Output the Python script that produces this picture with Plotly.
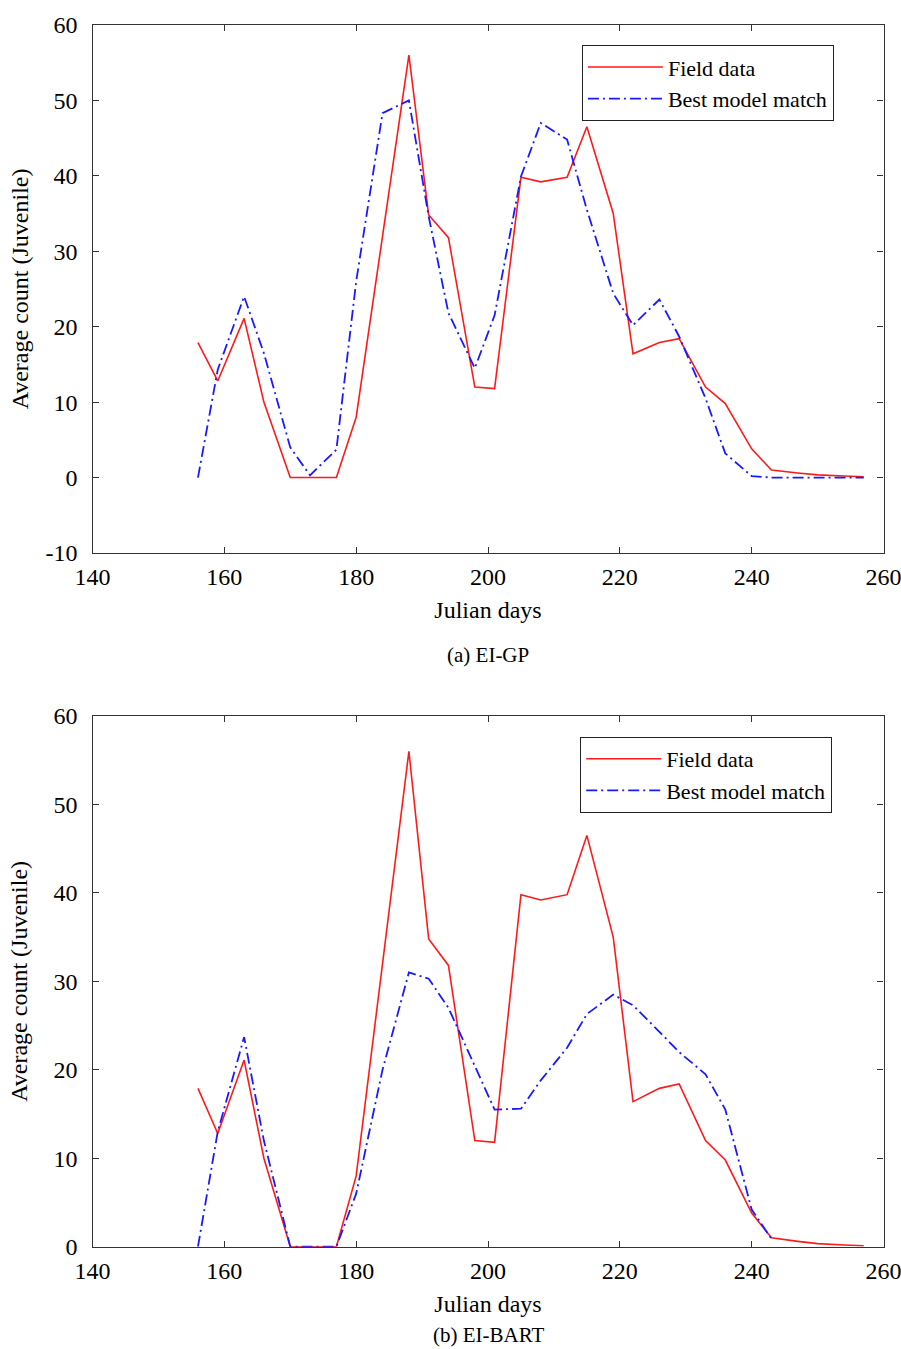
import plotly.graph_objects as go
from plotly.subplots import make_subplots

# ---- data ----
days = [156, 159, 163, 166, 170, 173, 177, 180, 184, 188, 191, 194, 198, 201, 205,
        208, 212, 215, 219, 222, 226, 229, 233, 236, 240, 243, 247, 250, 254, 257]
field_data = [17.9, 12.8, 21.1, 10.0, 0, 0, 0, 8.0, 32.0, 56.0, 34.8, 31.8, 12.0, 11.8, 39.8,
              39.2, 39.8, 46.5, 35.0, 16.4, 17.9, 18.4, 12.0, 9.8, 3.8, 1.0, 0.6, 0.35, 0.2, 0.1]
gp_model = [0, 14.3, 24.0, 16.5, 4.0, 0.3, 3.7, 26.0, 48.3, 50.0, 34.6, 21.8, 14.5, 21.5, 39.9,
            47.0, 44.8, 35.5, 24.4, 20.2, 23.6, 18.7, 10.5, 3.2, 0.2, 0, 0, 0, 0, 0]
bart_days = [156, 159, 163, 166, 170, 173, 177, 180, 184, 188, 191, 194, 198, 201, 205,
             208, 212, 215, 219, 222, 226, 229, 233, 236, 240, 243]
bart_model = [0, 13.0, 23.7, 12.0, 0, 0, 0, 6.0, 20.0, 31.0, 30.3, 27.0, 20.5, 15.5, 15.6,
              18.8, 22.5, 26.3, 28.5, 27.3, 24.3, 22.0, 19.5, 15.5, 4.2, 0.9]

x_ticks = [140, 160, 180, 200, 220, 240, 260]
y_ticks_a = [-10, 0, 10, 20, 30, 40, 50, 60]
y_ticks_b = [0, 10, 20, 30, 40, 50, 60]
captions = ["(a) EI-GP", "(b) EI-BART"]

FONT = "Liberation Serif"
W, H = 901, 1349

fig = make_subplots(rows=2, cols=1)

red = dict(color="#ff1a1a", width=1.6)
blue = dict(color="#1a1aff", width=1.8, dash="11px,4px,2px,4px")

fig.add_trace(go.Scatter(x=days, y=field_data, mode="lines", name="Field data",
                         line=red, legend="legend"), row=1, col=1)
fig.add_trace(go.Scatter(x=days, y=gp_model, mode="lines", name="Best model match",
                         line=blue, legend="legend"), row=1, col=1)
fig.add_trace(go.Scatter(x=days, y=field_data, mode="lines", name="Field data",
                         line=red, legend="legend2"), row=2, col=1)
fig.add_trace(go.Scatter(x=bart_days, y=bart_model, mode="lines", name="Best model match",
                         line=blue, legend="legend2"), row=2, col=1)

xdom = [92.5 / W, 883.5 / W]
ydom1 = [1 - 553 / H, 1 - 24.9 / H]
ydom2 = [1 - 1246.7 / H, 1 - 716 / H]

axis_common = dict(showline=True, linecolor="#333", linewidth=1.2, mirror="ticks",
                   ticks="inside", ticklen=6, tickcolor="#333", showgrid=False,
                   zeroline=False, automargin=False, ticklabeloverflow="allow",
                   tickfont=dict(family=FONT, size=24, color="black"))

for r, ydom, yt, ystand in ((1, ydom1, y_ticks_a, 10), (2, ydom2, y_ticks_b, 19)):
    fig.update_xaxes(domain=xdom, range=[140, 260], tickvals=x_ticks,
                     ticktext=[str(v) for v in x_ticks], ticklabelstandoff=2,
                     title=dict(text="Julian days", font=dict(family=FONT, size=24, color="black"),
                                standoff=12),
                     row=r, col=1, **axis_common)
    fig.update_yaxes(domain=ydom, tickvals=yt, ticktext=[str(v) for v in yt],
                     ticklabelstandoff=9,
                     title=dict(text="Average count (Juvenile)",
                                font=dict(family=FONT, size=24, color="black"), standoff=ystand),
                     row=r, col=1, **axis_common)

fig.update_yaxes(range=[-10, 60], row=1, col=1)
fig.update_yaxes(range=[0, 60], row=2, col=1)

leg_common = dict(xanchor="left", yanchor="top", bgcolor="white", bordercolor="#222",
                  borderwidth=1.2, font=dict(family=FONT, size=22, color="black"),
                  itemwidth=75, tracegroupgap=0, entrywidthmode="pixels", entrywidth=185)
fig.update_layout(
    width=W, height=H,
    margin=dict(l=0, r=0, t=0, b=0, autoexpand=False),
    paper_bgcolor="white", plot_bgcolor="white",
    showlegend=True,
    legend=dict(x=581.7 / W, y=1 - 45 / H, **leg_common),
    legend2=dict(x=580 / W, y=1 - 736.7 / H, **leg_common),
)

fig.add_annotation(text=captions[0], x=(92.5 + 883.5) / 2 / W, y=1 - 655 / H,
                   xref="paper", yref="paper", showarrow=False, yanchor="middle",
                   font=dict(family=FONT, size=21, color="black"))
fig.add_annotation(text=captions[1], x=(92.5 + 883.5) / 2 / W, y=1 - 1335 / H,
                   xref="paper", yref="paper", showarrow=False, yanchor="middle",
                   font=dict(family=FONT, size=21, color="black"))

fig.write_html("out.html", config={"displayModeBar": False},
               post_script="document.body.style.margin='0';document.body.style.padding='0';")
